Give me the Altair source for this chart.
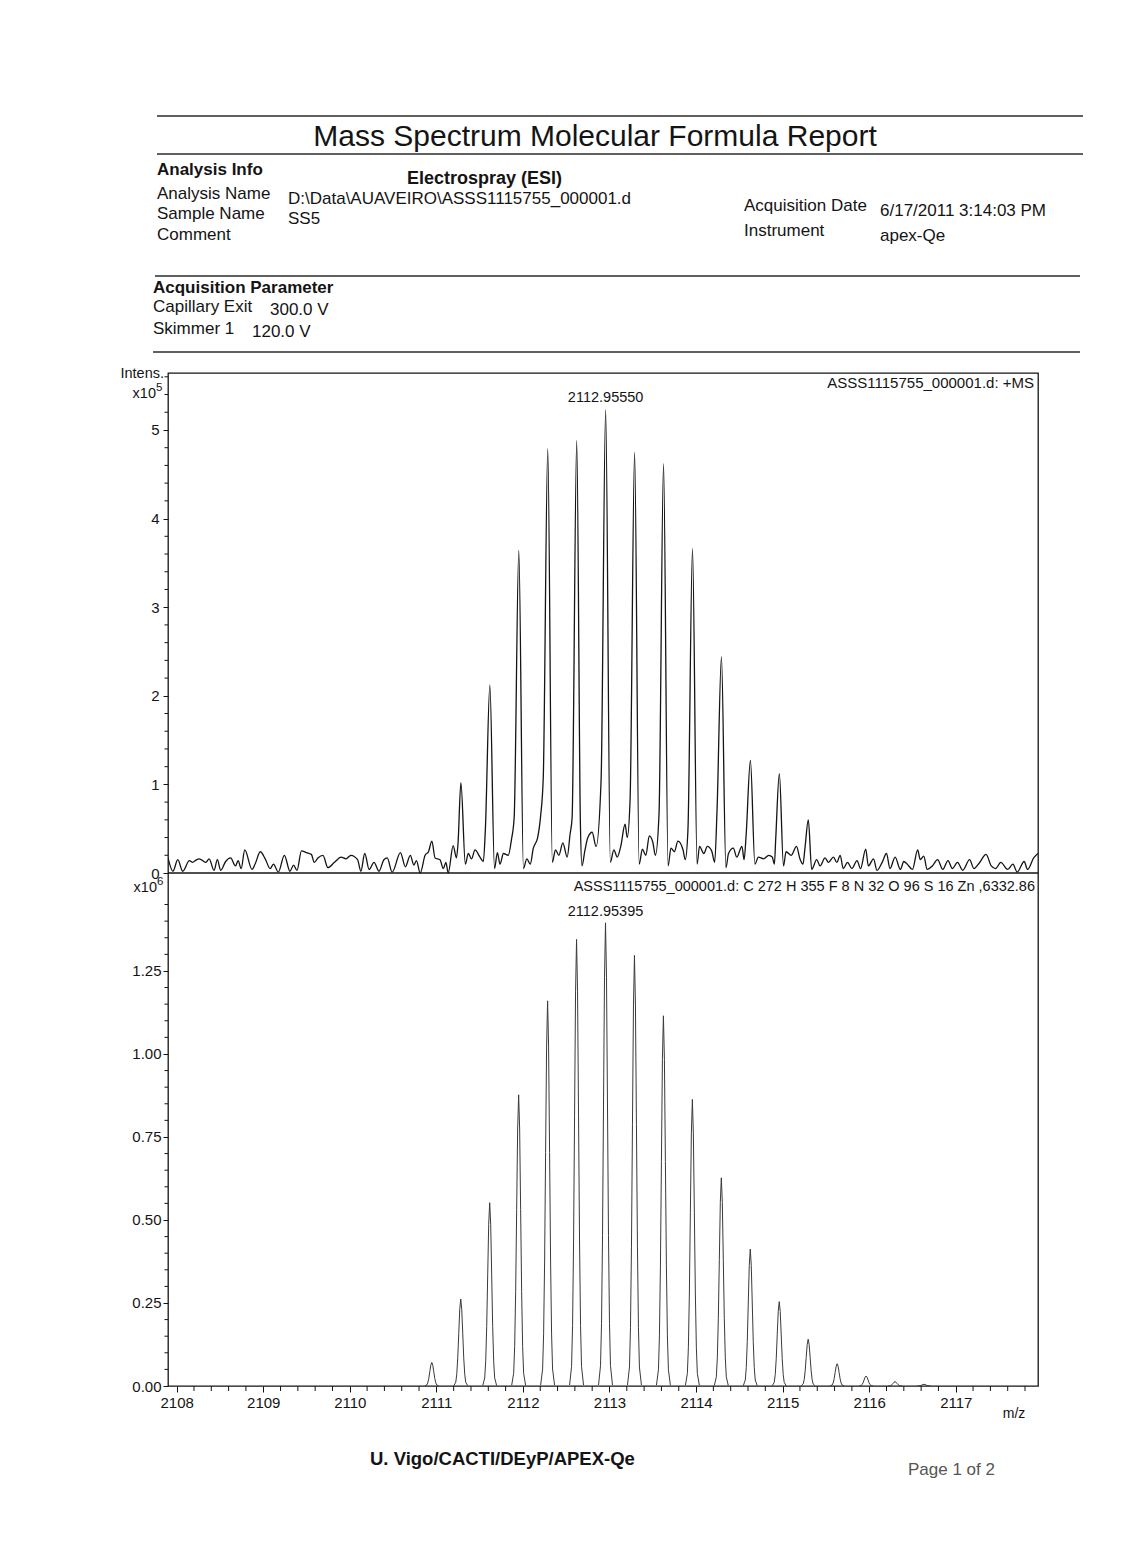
import altair as alt
import pandas as pd

# ---------------------------------------------------------------------------
# Measured spectrum (ASSS1115755_000001.d, +MS), intensities in units of 1e5
# Isotope-peak apexes
top_peak_mz = [2110.9480, 2111.2835, 2111.6180, 2111.9524, 2112.2869, 2112.6213,
               2112.95550, 2113.2900, 2113.6244, 2113.9589, 2114.2933, 2114.6278,
               2114.9622, 2115.2967]
top_peak_int = [0.36, 1.02, 2.12, 3.64, 4.79, 4.88, 5.23, 4.75, 4.62, 3.66, 2.44,
                1.27, 1.12, 0.60]

# Baseline noise, shoulders and valleys of the measured profile
top_bg_mz = [
    2107.900, 2107.957, 2108.013, 2108.070, 2108.147, 2108.185, 2108.215, 2108.261,
    2108.337, 2108.375, 2108.432, 2108.470, 2108.509, 2108.566, 2108.623, 2108.680,
    2108.710, 2108.745, 2108.787, 2108.870, 2108.910, 2108.966, 2109.023, 2109.080,
    2109.118, 2109.175, 2109.244, 2109.309, 2109.350, 2109.390, 2109.442, 2109.499,
    2109.556, 2109.590, 2109.632, 2109.690, 2109.747, 2109.823, 2109.899, 2109.956,
    2110.013, 2110.090, 2110.128, 2110.173, 2110.223, 2110.280, 2110.337, 2110.394,
    2110.432, 2110.490, 2110.585, 2110.642, 2110.699, 2110.740, 2110.770, 2110.813,
    2110.870, 2110.909, 2110.985, 2111.042, 2111.080, 2111.110, 2111.137, 2111.194,
    2111.232, 2111.250,
    2111.335, 2111.369, 2111.407, 2111.446, 2111.504, 2111.543, 2111.566,
    2111.672, 2111.705, 2111.735, 2111.775, 2111.830, 2111.868, 2111.899,
    2112.006, 2112.045, 2112.085, 2112.120, 2112.170, 2112.205, 2112.235,
    2112.340, 2112.376, 2112.415, 2112.461, 2112.511, 2112.545, 2112.568,
    2112.664, 2112.682, 2112.715, 2112.750, 2112.800, 2112.845, 2112.903,
    2113.010, 2113.050, 2113.090, 2113.130, 2113.180, 2113.205, 2113.238,
    2113.343, 2113.380, 2113.420, 2113.460, 2113.500, 2113.530, 2113.572,
    2113.677, 2113.710, 2113.750, 2113.790, 2113.850, 2113.875, 2113.906,
    2114.012, 2114.040, 2114.090, 2114.130, 2114.180, 2114.215, 2114.242,
    2114.345, 2114.375, 2114.430, 2114.470, 2114.530, 2114.555, 2114.578,
    2114.680, 2114.720, 2114.780, 2114.840, 2114.880, 2114.905, 2114.920,
    2115.010, 2115.040, 2115.100, 2115.160, 2115.200, 2115.235, 2115.258,
    2115.336, 2115.394, 2115.432, 2115.490, 2115.530, 2115.587, 2115.626, 2115.665,
    2115.700, 2115.750, 2115.800, 2115.860, 2115.900, 2115.960, 2115.990, 2116.050,
    2116.090, 2116.150, 2116.200, 2116.240, 2116.300, 2116.360, 2116.400, 2116.440,
    2116.500, 2116.560, 2116.590, 2116.630, 2116.670, 2116.730, 2116.790, 2116.850,
    2116.910, 2116.960, 2117.020, 2117.080, 2117.160, 2117.210, 2117.270, 2117.350,
    2117.410, 2117.460, 2117.520, 2117.600, 2117.660, 2117.710, 2117.790, 2117.830,
    2117.900, 2117.950,
]
top_bg_int = [
    0.17, 0.02, 0.15, 0.02, 0.14, 0.12, 0.14, 0.16,
    0.12, 0.16, 0.03, 0.15, 0.03, 0.13, 0.17, 0.08,
    0.14, 0.05, 0.26, 0.04, 0.11, 0.24, 0.16, 0.05,
    0.10, 0.01, 0.20, 0.02, 0.09, 0.03, 0.25, 0.23,
    0.21, 0.12, 0.17, 0.20, 0.06, 0.12, 0.18, 0.16,
    0.20, 0.15, 0.02, 0.22, 0.04, 0.12, 0.02, 0.15,
    0.17, 0.01, 0.23, 0.07, 0.20, 0.09, 0.14, 0.00,
    0.20, 0.24, 0.17, 0.15, 0.05, 0.12, 0.00, 0.31,
    0.17, 0.33,
    0.10, 0.22, 0.16, 0.26, 0.18, 0.13, 0.49,
    0.05, 0.23, 0.10, 0.22, 0.20, 0.38, 0.63,
    0.05, 0.16, 0.10, 0.28, 0.40, 0.65, 1.08,
    0.12, 0.26, 0.20, 0.34, 0.18, 0.44, 0.62,
    0.55, 0.08, 0.25, 0.40, 0.46, 0.30, 1.05,
    0.12, 0.26, 0.18, 0.30, 0.55, 0.40, 0.83,
    0.10, 0.27, 0.20, 0.42, 0.35, 0.20, 0.66,
    0.08, 0.28, 0.24, 0.36, 0.26, 0.15, 0.48,
    0.10, 0.30, 0.22, 0.30, 0.25, 0.12, 0.70,
    0.06, 0.22, 0.28, 0.18, 0.30, 0.15, 0.42,
    0.10, 0.18, 0.16, 0.20, 0.18, 0.10, 0.38,
    0.08, 0.24, 0.20, 0.30, 0.16, 0.10, 0.28,
    0.04, 0.15, 0.08, 0.17, 0.12, 0.18, 0.12, 0.20,
    0.05, 0.12, 0.05, 0.14, 0.05, 0.27, 0.08, 0.16,
    0.03, 0.12, 0.22, 0.05, 0.18, 0.04, 0.13, 0.10,
    0.04, 0.26, 0.15, 0.19, 0.04, 0.08, 0.15, 0.04,
    0.14, 0.05, 0.12, 0.03, 0.15, 0.05, 0.11, 0.21,
    0.08, 0.05, 0.12, 0.04, 0.10, 0.01, 0.13, 0.04,
    0.17, 0.22,
]

# Simulated pattern C272 H355 F8 N32 O96 S16 Zn, intensities in units of 1e6
sim_mz = [2110.9472, 2111.2817, 2111.6161, 2111.9506, 2112.2850, 2112.6195,
          2112.95395, 2113.2884, 2113.6229, 2113.9573, 2114.2918, 2114.6262,
          2114.9607, 2115.2951, 2115.6296, 2115.9640, 2116.2985, 2116.6329]
sim_int = [0.071, 0.262, 0.552, 0.877, 1.160, 1.345, 1.395, 1.297, 1.115,
           0.863, 0.627, 0.412, 0.254, 0.141, 0.067, 0.030, 0.013, 0.005]

x_tick_values = [2108, 2109, 2110, 2111, 2112, 2113, 2114, 2115, 2116, 2117]
top_tick_values = [0, 1, 2, 3, 4, 5]
sim_tick_values = [0.0, 0.25, 0.5, 0.75, 1.0, 1.25]

# ---------------------------------------------------------------------------
FONT = "Liberation Sans"
INK = "#141414"
PAGE_W, PAGE_H = 1133, 1562
LEFT, TOP = 168, 373          # plot frame origin on the page
PW, PH = 870, 1013            # plot frame size (both panels)
SPLIT = 500                   # divider between the panels
SIGMA = 0.023                 # drawn width of simulated peaks (m/z)

X_DOMAIN = [2107.9, 2117.95]
TOP_DOMAIN = [0, 5.643]
SIM_DOMAIN = [0, 1.545]

XS = alt.Scale(domain=X_DOMAIN, nice=False, zero=False)
TS = alt.Scale(domain=TOP_DOMAIN, range=[SPLIT, 0], nice=False, zero=False)
SS = alt.Scale(domain=SIM_DOMAIN, range=[PH, SPLIT], nice=False, zero=False)

X_AXIS = alt.Axis(values=x_tick_values, format="d", title=None, orient="bottom",
                  tickSize=6, tickColor=INK, labelPadding=3, labelFontSize=15,
                  labelFont=FONT, labelColor=INK, domain=False, grid=False,
                  labelFlush=False, labelOverlap=False)
TOP_AXIS = alt.Axis(values=top_tick_values, format="d", title=None, orient="left",
                    tickSize=5, tickColor=INK, labelPadding=4, labelFontSize=15,
                    labelFont=FONT, labelColor=INK, domain=False, grid=False,
                    labelFlush=False, labelOverlap=False)
SIM_AXIS = alt.Axis(values=sim_tick_values, format=".2f", title=None, orient="left",
                    tickSize=5, tickColor=INK, labelPadding=2, labelFontSize=15,
                    labelFont=FONT, labelColor=INK, domain=False, grid=False,
                    labelFlush=False, labelOverlap=False)

x_minor = [round(2108 + i * 0.2, 1) for i in range(50) if i % 5]
top_minor = [round(i * 0.2, 1) for i in range(1, 29) if i % 5]
sim_minor = [round(i * 0.05, 2) for i in range(1, 31) if i % 5]

ONE = pd.DataFrame({"k": [0]})


def page_text(s, px, py, size=17, weight="normal", align="left", color=INK):
    return alt.Chart(ONE).mark_text(
        text=s, align=align, baseline="middle", font=FONT, fontSize=size,
        fontWeight=weight, color=color,
    ).encode(x=alt.value(px - LEFT), y=alt.value(py - TOP))


def page_rule(x1, x2, py):
    return alt.Chart(ONE).mark_rule(color="#2b2b2b", strokeWidth=1.4).encode(
        x=alt.value(x1 - LEFT), x2=alt.value(x2 - LEFT), y=alt.value(py - TOP))


# ---------------------------------------------------------------------------
# Upper panel: measured profile
trace = pd.concat([
    pd.DataFrame({"mz": top_bg_mz, "inten": top_bg_int}),
    pd.DataFrame({"mz": top_peak_mz, "inten": top_peak_int}),
]).sort_values("mz").reset_index(drop=True)

top_line = alt.Chart(trace).mark_line(
    color=INK, strokeWidth=1.3, clip=True, interpolate="monotone").encode(
    x=alt.X("mz:Q", scale=XS, axis=X_AXIS),
    y=alt.Y("inten:Q", scale=TS, axis=TOP_AXIS),
    order="mz:Q",
)

divider = alt.Chart(pd.DataFrame({"v": [0]})).mark_rule(color=INK, strokeWidth=1.3).encode(
    y=alt.Y("v:Q", scale=TS, axis=TOP_AXIS))

top_minor_ticks = alt.Chart(pd.DataFrame({"v": top_minor})).mark_rule(
    color=INK, strokeWidth=1).encode(
    y=alt.Y("v:Q", scale=TS, axis=TOP_AXIS), x=alt.value(-3.5), x2=alt.value(0))

i_top = top_peak_int.index(max(top_peak_int))
top_label_df = pd.DataFrame({"mz": [top_peak_mz[i_top]], "inten": [top_peak_int[i_top]],
                             "label": [f"{top_peak_mz[i_top]:.5f}"]})
top_label = alt.Chart(top_label_df).mark_text(
    font=FONT, fontSize=14.5, color=INK, baseline="bottom", dy=-5).encode(
    x=alt.X("mz:Q", scale=XS, axis=X_AXIS),
    y=alt.Y("inten:Q", scale=TS, axis=TOP_AXIS),
    text="label:N")

top_panel = alt.layer(top_line, divider, top_minor_ticks, top_label)

# ---------------------------------------------------------------------------
# Lower panel: simulated isotope pattern, each centroid drawn as a narrow profile
sim_df = pd.DataFrame({"mz": sim_mz, "inten": sim_int, "pk": list(range(len(sim_mz)))})
sim_line = alt.Chart(sim_df).transform_calculate(
    off="[-3.5, -2.5, -2, -1.5, -1, -0.5, 0, 0.5, 1, 1.5, 2, 2.5, 3.5]"
).transform_flatten(["off"]).transform_calculate(
    px=f"datum.mz + datum.off * {SIGMA}",
    py="datum.inten * exp(-0.5 * datum.off * datum.off)",
).mark_line(color="#3a3a3a", strokeWidth=1.0, clip=True).encode(
    x=alt.X("px:Q", scale=XS, axis=X_AXIS),
    y=alt.Y("py:Q", scale=SS, axis=SIM_AXIS),
    detail="pk:N",
    order="off:Q",
)

sim_minor_ticks = alt.Chart(pd.DataFrame({"v": sim_minor})).mark_rule(
    color=INK, strokeWidth=1).encode(
    y=alt.Y("v:Q", scale=SS, axis=SIM_AXIS), x=alt.value(-3.5), x2=alt.value(0))

x_minor_ticks = alt.Chart(pd.DataFrame({"v": x_minor})).mark_rule(
    color=INK, strokeWidth=1).encode(
    x=alt.X("v:Q", scale=XS, axis=X_AXIS), y=alt.value(PH), y2=alt.value(PH + 5))

i_sim = sim_int.index(max(sim_int))
sim_label_df = pd.DataFrame({"mz": [sim_mz[i_sim]], "inten": [sim_int[i_sim]],
                             "label": [f"{sim_mz[i_sim]:.5f}"]})
sim_label = alt.Chart(sim_label_df).mark_text(
    font=FONT, fontSize=14.5, color=INK, baseline="bottom", dy=-4).encode(
    x=alt.X("mz:Q", scale=XS, axis=X_AXIS),
    y=alt.Y("inten:Q", scale=SS, axis=SIM_AXIS),
    text="label:N")

sim_panel = alt.layer(sim_line, sim_minor_ticks, x_minor_ticks, sim_label)

# ---------------------------------------------------------------------------
# Report header, panel annotations and footer
header = [
    page_rule(157, 1083, 116),
    page_text("Mass Spectrum Molecular Formula Report", 595, 137, size=30, align="center"),
    page_rule(157, 1083, 154),
    page_text("Analysis Info", 157, 170, weight="bold"),
    page_text("Electrospray (ESI)", 407, 179, size=18, weight="bold"),
    page_text("Analysis Name", 157, 194),
    page_text("D:\\Data\\AUAVEIRO\\ASSS1115755_000001.d", 288, 199),
    page_text("Sample Name", 157, 214),
    page_text("SS5", 288, 219),
    page_text("Comment", 157, 235),
    page_text("Acquisition Date", 744, 206),
    page_text("6/17/2011 3:14:03 PM", 880, 211),
    page_text("Instrument", 744, 231),
    page_text("apex-Qe", 880, 236),
    page_rule(155, 1080, 276),
    page_text("Acquisition Parameter", 153, 288, weight="bold"),
    page_text("Capillary Exit", 153, 307),
    page_text("300.0 V", 270, 310),
    page_text("Skimmer 1", 153, 329),
    page_text("120.0 V", 252, 332),
    page_rule(153, 1080, 352),
]

annotations = [
    page_text("Intens.", LEFT - 4, TOP + 1, size=14.5, align="right"),
    page_text("x10", LEFT - 12, TOP + 21, size=14.5, align="right"),
    page_text("5", LEFT - 12, TOP + 15, size=11.5),
    page_text("x10", LEFT - 11, TOP + SPLIT + 15, size=14.5, align="right"),
    page_text("6", LEFT - 11, TOP + SPLIT + 9, size=11.5),
    page_text("ASSS1115755_000001.d: +MS", LEFT + PW - 4, TOP + 10, size=15, align="right"),
    page_text("ASSS1115755_000001.d: C 272 H 355 F 8 N 32 O 96 S 16 Zn  ,6332.86",
              LEFT + PW - 3, TOP + SPLIT + 14, size=14.5, align="right"),
    page_text("m/z", LEFT + 846, TOP + PH + 28, size=14, align="center"),
]

footer = [
    page_text("U. Vigo/CACTI/DEyP/APEX-Qe", 370, 1459, size=18.5, weight="bold"),
    page_text("Page 1 of 2", 908, 1470, size=17, color="#555555"),
]

chart = alt.layer(
    *header, top_panel, sim_panel, *annotations, *footer
).resolve_scale(
    y="independent"
).properties(
    width=PW, height=PH,
    padding={"left": LEFT, "top": TOP, "right": PAGE_W - LEFT - PW,
             "bottom": PAGE_H - TOP - PH},
    autosize=alt.AutoSizeParams(type="none"),
    background="white",
).configure_view(
    stroke=INK, strokeWidth=1.3
)

chart.save("out.html", embed_options={"renderer": "svg", "actions": False})
